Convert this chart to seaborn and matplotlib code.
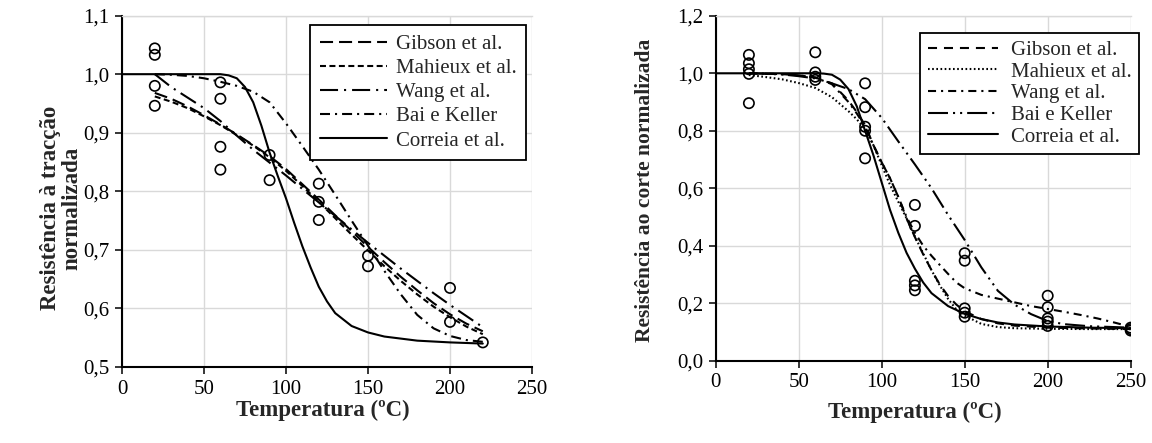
import matplotlib
matplotlib.use("Agg")
import matplotlib.pyplot as plt
import numpy as np
import pandas as pd
import seaborn as sns
from matplotlib.lines import Line2D
from matplotlib.ticker import FuncFormatter, MultipleLocator

# ---------------- data: left panel (tension) ----------------
models = ["Gibson et al.", "Mahieux et al.", "Wang et al.", "Bai e Keller", "Correia et al."]

T_left = [20, 30, 40, 50, 60, 70, 80, 90, 100, 110, 120, 130, 140, 150, 160, 170, 180, 190, 200, 210, 220]
gibson_left = [0.968, 0.958, 0.945, 0.930, 0.914, 0.897, 0.879, 0.860, 0.838, 0.812, 0.786, 0.759, 0.732, 0.705, 0.679, 0.654, 0.631, 0.609, 0.590, 0.574, 0.561]
mahieux_left = [0.962, 0.953, 0.942, 0.928, 0.913, 0.896, 0.878, 0.858, 0.835, 0.809, 0.782, 0.754, 0.726, 0.699, 0.672, 0.647, 0.624, 0.603, 0.585, 0.569, 0.556]
wang_left = [1.000, 0.978, 0.960, 0.942, 0.920, 0.895, 0.871, 0.849, 0.827, 0.804, 0.781, 0.758, 0.735, 0.712, 0.690, 0.668, 0.647, 0.626, 0.606, 0.587, 0.568]
bai_left = [1.000, 0.999, 0.997, 0.993, 0.987, 0.980, 0.970, 0.952, 0.916, 0.877, 0.837, 0.794, 0.750, 0.707, 0.664, 0.624, 0.589, 0.566, 0.553, 0.546, 0.543]
T_correia_left = [0, 20, 40, 60, 65, 70, 75, 80, 85, 90, 95, 100, 105, 110, 115, 120, 125, 130, 140, 150, 160, 180, 200, 220]
correia_left = [1.0, 1.0, 1.0, 1.0, 0.998, 0.993, 0.978, 0.952, 0.912, 0.866, 0.826, 0.788, 0.746, 0.706, 0.670, 0.637, 0.612, 0.592, 0.570, 0.559, 0.552, 0.545, 0.542, 0.540]

exp_T_left = [20, 20, 20, 20, 60, 60, 60, 60, 90, 90, 120, 120, 120, 150, 150, 200, 200, 220]
exp_left = [1.044, 1.033, 0.980, 0.946, 0.986, 0.958, 0.876, 0.837, 0.862, 0.819, 0.813, 0.782, 0.751, 0.690, 0.672, 0.635, 0.577, 0.542]

# ---------------- data: right panel (shear) ----------------
T_gibson_right = [20, 40, 50, 60, 70, 80, 85, 90, 95, 100, 105, 110, 115, 120, 125, 130, 135, 140, 145, 150, 160, 170, 180, 200, 225, 250]
gibson_right = [1.0, 0.997, 0.993, 0.985, 0.965, 0.905, 0.865, 0.820, 0.750, 0.690, 0.635, 0.570, 0.495, 0.430, 0.370, 0.315, 0.265, 0.225, 0.195, 0.172, 0.145, 0.130, 0.122, 0.115, 0.112, 0.110]
T_mahieux_right = [20, 30, 40, 50, 60, 70, 80, 85, 90, 95, 100, 105, 110, 115, 120, 125, 130, 135, 140, 145, 150, 160, 170, 180, 200, 225, 250]
mahieux_right = [0.994, 0.987, 0.979, 0.966, 0.949, 0.917, 0.868, 0.840, 0.805, 0.750, 0.680, 0.612, 0.553, 0.495, 0.432, 0.373, 0.315, 0.262, 0.215, 0.178, 0.157, 0.128, 0.117, 0.113, 0.111, 0.110, 0.110]
T_wang_right = [20, 40, 50, 60, 70, 80, 85, 90, 95, 100, 105, 110, 115, 120, 125, 130, 135, 140, 145, 150, 160, 170, 180, 190, 200, 210, 220, 230, 240, 250]
wang_right = [1.0, 0.997, 0.993, 0.985, 0.962, 0.900, 0.860, 0.815, 0.750, 0.690, 0.635, 0.570, 0.500, 0.445, 0.400, 0.365, 0.333, 0.302, 0.272, 0.252, 0.229, 0.216, 0.203, 0.190, 0.180, 0.170, 0.159, 0.147, 0.133, 0.118]
T_bai_right = [20, 40, 50, 60, 70, 80, 90, 100, 110, 120, 130, 140, 150, 160, 170, 180, 190, 200, 210, 225, 250]
bai_right = [1.0, 0.996, 0.990, 0.982, 0.965, 0.945, 0.910, 0.845, 0.763, 0.683, 0.600, 0.507, 0.420, 0.325, 0.243, 0.195, 0.162, 0.138, 0.127, 0.120, 0.115]
T_correia_right = [0, 20, 40, 60, 65, 70, 75, 80, 85, 90, 95, 100, 105, 110, 115, 120, 125, 130, 140, 150, 160, 170, 180, 200, 225, 250]
correia_right = [1.0, 1.0, 1.0, 1.0, 0.999, 0.995, 0.978, 0.945, 0.885, 0.800, 0.715, 0.620, 0.525, 0.445, 0.375, 0.320, 0.272, 0.235, 0.190, 0.163, 0.145, 0.133, 0.126, 0.119, 0.115, 0.113]

exp_T_right = [20, 20, 20, 20, 20, 60, 60, 60, 60, 90, 90, 90, 90, 90,
               120, 120, 120, 120, 120, 150, 150, 150, 150, 150,
               200, 200, 200, 200, 200, 250, 250, 250]
exp_right = [1.064, 1.035, 1.014, 0.998, 0.896, 1.073, 1.003, 0.988, 0.977, 0.965, 0.882, 0.814, 0.800, 0.704,
             0.542, 0.469, 0.278, 0.262, 0.245, 0.374, 0.348, 0.182, 0.167, 0.153,
             0.226, 0.186, 0.147, 0.136, 0.121, 0.115, 0.110, 0.105]

# ---------------- styles ----------------
dashes_left = {"Gibson et al.": (9.4, 4.3), "Mahieux et al.": (4.3, 2.5),
               "Wang et al.": (13.0, 4.3, 1.5, 4.3), "Bai e Keller": (7.2, 3.6, 1.5, 3.6),
               "Correia et al.": ""}
dashes_right = {"Gibson et al.": (6.5, 5.0), "Mahieux et al.": (1.2, 1.8),
                "Wang et al.": (5.8, 3.6, 1.5, 3.6), "Bai e Keller": (14.4, 3.6, 1.5, 3.6, 1.5, 3.6),
                "Correia et al.": ""}


def long_df(series):
    rows = []
    for name, ts, vs in series:
        for t, v in zip(ts, vs):
            rows.append((name, t, v))
    return pd.DataFrame(rows, columns=["model", "T", "v"])


df_left = long_df([("Gibson et al.", T_left, gibson_left), ("Mahieux et al.", T_left, mahieux_left),
                   ("Wang et al.", T_left, wang_left), ("Bai e Keller", T_left, bai_left),
                   ("Correia et al.", T_correia_left, correia_left)])
df_right = long_df([("Gibson et al.", T_gibson_right, gibson_right), ("Mahieux et al.", T_mahieux_right, mahieux_right),
                    ("Wang et al.", T_wang_right, wang_right), ("Bai e Keller", T_bai_right, bai_right),
                    ("Correia et al.", T_correia_right, correia_right)])

sns.set_theme(style="white")
plt.rcParams["font.family"] = ["Liberation Serif", "DejaVu Serif"]
plt.rcParams["lines.scale_dashes"] = False
plt.rcParams["lines.dash_capstyle"] = "butt"

W, H = 1152, 443
fig = plt.figure(figsize=(W / 100, H / 100), dpi=100)
fig.patch.set_facecolor("white")


def px_axes(x0, x1, ytop, ybot):
    return fig.add_axes([x0 / W, 1 - ybot / H, (x1 - x0) / W, (ybot - ytop) / H])


axL = px_axes(122, 532, 15.6, 367)
axR = px_axes(715.7, 1130.7, 15.8, 360.7)

comma = FuncFormatter(lambda v, p: f"{v:.1f}".replace(".", ","))
fs = 15
fs_title = 16.5


def style_axes(ax, ylim, ystep):
    ax.set_xlim(0, 250)
    ax.set_ylim(*ylim)
    ax.xaxis.set_major_locator(MultipleLocator(50))
    ax.yaxis.set_major_locator(MultipleLocator(ystep))
    ax.yaxis.set_major_formatter(comma)
    ax.grid(True, color="#d9d9d9", linewidth=1.0, zorder=0)
    ax.set_axisbelow(True)
    ax.spines["right"].set_visible(False)
    ax.spines["top"].set_color("#d9d9d9")
    ax.spines["top"].set_linewidth(1.0)
    for s in ["left", "bottom"]:
        ax.spines[s].set_color("black")
        ax.spines[s].set_linewidth(1.5)
    ax.tick_params(axis="both", direction="out", length=5, width=1.1, color="black",
                   labelsize=fs, pad=4, labelcolor="black")
    ax.tick_params(left=True, bottom=True)
    ax.set_facecolor("white")


def draw(ax, df, dashes, exT, exV, legend_anchor, lkw):
    sns.lineplot(data=df, x="T", y="v", style="model", style_order=models, dashes=dashes,
                 color="black", linewidth=1.5, estimator=None, sort=False, legend=False, ax=ax, zorder=3)
    sns.scatterplot(x=exT, y=exV, marker="o", s=55, facecolors="none", edgecolor="black",
                    linewidth=1.2, ax=ax, zorder=4)
    handles = []
    for m in models:
        d = dashes[m]
        ls = "-" if d == "" else (0, d)
        handles.append(Line2D([], [], color="black", linewidth=1.5, linestyle=ls))
    leg = ax.legend(handles, models, loc="upper right", bbox_to_anchor=legend_anchor,
                    frameon=True, fancybox=False, edgecolor="black", framealpha=1,
                    fontsize=fs, borderaxespad=0, **lkw)
    leg.get_frame().set_linewidth(1.3)
    leg.set_zorder(10)
    ax.set_xlabel("")
    ax.set_ylabel("")


style_axes(axL, (0.5, 1.1), 0.1)
style_axes(axR, (0.0, 1.2), 0.2)

draw(axL, df_left, dashes_left, exp_T_left, exp_left, ((526 - 122) / 410, (367 - 25) / 351.4),
     dict(handlelength=3.2, handletextpad=0.45, borderpad=0.45, labelspacing=0.22))
draw(axR, df_right, dashes_right, exp_T_right, exp_right, ((1139 - 715.7) / 415, (360.7 - 33) / 344.9),
     dict(handlelength=3.4, handletextpad=0.6, borderpad=0.35, labelspacing=0.1))

# axis titles
fig.text(323 / W, 1 - 410 / H, "Temperatura (ºC)", ha="center", va="center",
         fontsize=fs_title, fontweight="bold")
fig.text(915 / W, 1 - 412 / H, "Temperatura (ºC)", ha="center", va="center",
         fontsize=fs_title, fontweight="bold")
fig.text(61 / W, 1 - 208 / H, "Resistência à tracção\nnormalizada", ha="center", va="center",
         rotation=90, multialignment="center", fontsize=fs_title, fontweight="bold", linespacing=1.0)
fig.text(645 / W, 1 - 190 / H, "Resistência ao corte normalizada", ha="center", va="center",
         rotation=90, fontsize=15.5, fontweight="bold")

fig.savefig("out.png", dpi=100, facecolor="white")
